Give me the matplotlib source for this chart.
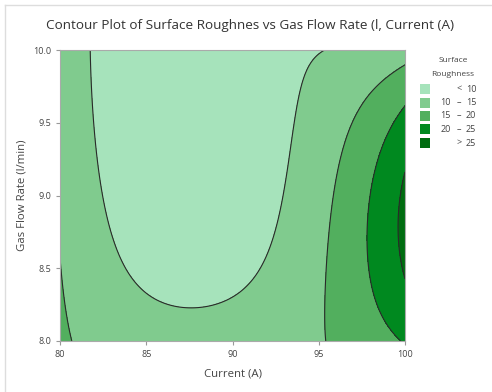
import matplotlib
matplotlib.use("Agg")
import matplotlib.pyplot as plt
from matplotlib.patches import Rectangle
from matplotlib.lines import Line2D
import numpy as np

plt.rcParams['font.family'] = ['Open Sans', 'DejaVu Sans']

c10_x = [81.74, 81.99, 82.32, 82.41, 83.0, 83.19, 83.48, 84.23, 85.8, 87.65,
         89.68, 91.01, 92.0, 92.64, 93.16, 93.22, 93.74, 94.2, 95.65]
c10_y = [10.0, 9.5, 9.107, 9.0, 8.74, 8.646, 8.58, 8.433, 8.282, 8.22,
         8.268, 8.4, 8.605, 8.85, 9.107, 9.265, 9.608, 9.84, 10.0]
c15_x = [80.0, 80.68, 95.19, 95.36, 95.65, 96.06, 96.64, 97.39, 98.55, 100.0]
c15_y = [8.577, 8.0, 8.0, 8.35, 8.69, 9.155, 9.45, 9.61, 9.77, 9.897]
c20_x = [99.42, 99.0, 98.55, 98.2, 97.97, 97.8, 98.14, 98.96, 100.0]
c20_y = [8.02, 8.1, 8.234, 8.35, 8.467, 8.81, 9.155, 9.38, 9.62]
c25_x = [100.0, 99.71, 99.54, 99.65, 100.0]
c25_y = [8.467, 8.577, 8.78, 8.97, 9.175]
# estimated values on the right edge
edge_x, edge_y, edge_z = [100.0, 100.0], [8.82, 8.0], [26.2, 20.4]

levels = [10, 15, 20, 25]
legend_lo = ['', '10', '15', '20', '']
legend_mid = ['<', '\u2013', '\u2013', '\u2013', '>']
legend_hi = ['10', '15', '20', '25', '25']
colors = ['#a6e3bb', '#80cb8e', '#52af5e', '#00891f', '#006c10']

xs = np.array(c10_x + c15_x + c20_x + c25_x + edge_x)
ys = np.array(c10_y + c15_y + c20_y + c25_y + edge_y)
zs = np.array([10] * len(c10_x) + [15] * len(c15_x) + [20] * len(c20_x)
              + [25] * len(c25_x) + edge_z, dtype=float)


def basis(x, y):
    u = (x - 90) / 10.0
    v = (y - 9) / 1.0
    cols = []
    for i in range(5):
        for j in range(3):
            cols.append(u ** i * v ** j)
    return np.stack(cols, axis=-1)


# smooth surface through the read contour points
coef, *_ = np.linalg.lstsq(basis(xs, ys), zs, rcond=None)

gx, gy = np.meshgrid(np.linspace(80, 100, 300), np.linspace(8, 10, 300))
gz = basis(gx, gy) @ coef

fig = plt.figure(figsize=(4.92, 3.92), dpi=100)
ax = fig.add_axes([60 / 492, 1 - 341 / 392, 345 / 492, 291 / 392])
ax.contourf(gx, gy, gz, levels=[-1e9] + levels + [1e9], colors=colors)
ax.contour(gx, gy, gz, levels=levels, colors='#2a2a2a', linewidths=0.8)

ax.set_xlim(80, 100)
ax.set_ylim(8, 10)
ax.set_xticks([80, 85, 90, 95, 100])
ax.set_yticks([8.0, 8.5, 9.0, 9.5, 10.0])
ax.set_yticklabels(['8.0', '8.5', '9.0', '9.5', '10.0'])
ax.tick_params(labelsize=6.5, colors='#999999', labelcolor='#444444', length=3, width=0.8)
for s in ax.spines.values():
    s.set_color('#aaaaaa')
    s.set_linewidth(0.8)
ax.set_xlabel('Current (A)', fontsize=8.2, color='#444444')
ax.set_ylabel('Gas Flow Rate (l/min)', fontsize=8.2, color='#444444')
ax.xaxis.set_label_coords(0.5, -0.095)
ax.yaxis.set_label_coords(-0.095, 0.5)

fig.text(250 / 492, 1 - 26 / 392, 'Contour Plot of Surface Roughnes vs Gas Flow Rate (l, Current (A)',
         ha='center', va='center', fontsize=9.7, color='#333333')

# legend
fig.text(453 / 492, 1 - 61 / 392, 'Surface', ha='center', va='center', fontsize=6, color='#444444')
fig.text(453 / 492, 1 - 74 / 392, 'Roughness', ha='center', va='center', fontsize=6, color='#444444')
for k in range(5):
    yc = 89 + 13.5 * k
    fig.patches.append(Rectangle((420 / 492, 1 - (yc + 5) / 392), 10 / 492, 10 / 392,
                                 transform=fig.transFigure, facecolor=colors[k], edgecolor='none'))
    fig.text(451 / 492, 1 - yc / 392, legend_lo[k], ha='right', va='center', fontsize=6.5, color='#444444')
    fig.text(459 / 492, 1 - yc / 392, legend_mid[k], ha='center', va='center', fontsize=6.5, color='#444444')
    fig.text(466 / 492, 1 - yc / 392, legend_hi[k], ha='left', va='center', fontsize=6.5, color='#444444')

# outer frame
fig.add_artist(Line2D([5 / 492, 1], [1 - 5 / 392, 1 - 5 / 392], transform=fig.transFigure, color='#dddddd', lw=1))
fig.add_artist(Line2D([5 / 492, 5 / 492], [0, 1 - 5 / 392], transform=fig.transFigure, color='#dddddd', lw=1))

fig.savefig('out.png', dpi=100)
